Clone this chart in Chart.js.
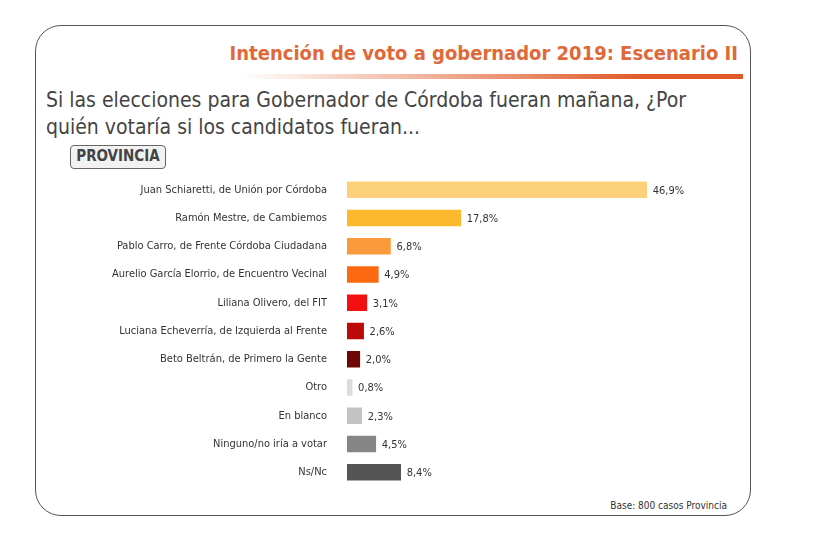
<!DOCTYPE html>
<html><head><meta charset="utf-8">
<script src="https://cdn.jsdelivr.net/npm/chart.js@4"></script>
<style>
body{margin:0;width:822px;height:549px;background:#fff;font-family:"DejaVu Sans Condensed","Roboto Condensed",Roboto,sans-serif;position:relative;overflow:hidden}
#frame{position:absolute;left:35px;top:25px;width:716px;height:491px;border:1.5px solid #555;border-radius:26px;box-sizing:border-box}
#title{position:absolute;right:84px;top:41px;color:#e0693a;font-weight:bold;font-size:20px;font-family:"DejaVu Sans Condensed",sans-serif}
#line{position:absolute;left:240px;top:74px;width:503px;height:5px;background:linear-gradient(to right,rgba(224,90,40,0),#e05a28 80%)}
#sub{position:absolute;left:46px;top:87px;color:#444;font-size:21px;line-height:27px;font-family:"DejaVu Sans Condensed",sans-serif}
#prov{position:absolute;left:70px;top:145px;width:96px;height:24px;border:1.5px solid #666;border-radius:4px;box-sizing:border-box;background:#f2f2f2;color:#444;font-size:15px;font-weight:bold;text-align:center;line-height:21px}
#base{position:absolute;right:95px;top:500px;font-size:10px;color:#333}
#c{position:absolute;left:40px;top:157px}
</style></head><body>
<div id="frame"></div>
<div id="title">Intención de voto a gobernador 2019: Escenario II</div>
<div id="line"></div>
<div id="sub">Si las elecciones para Gobernador de Córdoba fueran mañana, ¿Por<br>quién votaría si los candidatos fueran...</div>
<div id="prov">PROVINCIA</div>
<div id="base">Base: 800 casos Provincia</div>
<canvas id="c" width="700" height="348"></canvas>
<script>
const categories=["Juan Schiaretti, de Unión por Córdoba","Ramón Mestre, de Cambiemos","Pablo Carro, de Frente Córdoba Ciudadana","Aurelio García Elorrio, de Encuentro Vecinal","Liliana Olivero, del FIT","Luciana Echeverría, de Izquierda al Frente","Beto Beltrán, de Primero la Gente","Otro","En blanco","Ninguno/no iría a votar","Ns/Nc"];
const values=[46.9,17.8,6.8,4.9,3.1,2.6,2.0,0.8,2.3,4.5,8.4];
const colors=["#fdd17a","#fdb92d","#fb9a3c","#fb6a10","#f41010","#bc0a0a","#6e0606","#dcdcdc","#c3c3c3","#858585","#555555"];
const labelPlugin={id:'lbl',afterDatasetsDraw(ch){const ctx=ch.ctx;const m=ch.getDatasetMeta(0);ctx.save();ctx.font='11px "DejaVu Sans Condensed",sans-serif';ctx.fillStyle='#333';ctx.textBaseline='middle';m.data.forEach((b,i)=>{ctx.fillText(values[i].toFixed(1).replace('.',',')+'%',b.x+6,b.y+1);});ctx.restore();}};
new Chart(document.getElementById('c'),{type:'bar',data:{labels:categories,datasets:[{data:values,backgroundColor:colors,barThickness:16}]},
options:{indexAxis:'y',responsive:false,animation:false,layout:{padding:0},
plugins:{legend:{display:false},tooltip:{enabled:false}},
scales:{x:{display:false,min:0,max:61.5},y:{grid:{display:false},border:{display:false},afterFit(s){s.width=307;},ticks:{color:'#333',padding:12,font:{size:11,family:'"DejaVu Sans Condensed",sans-serif'}}}}},
plugins:[labelPlugin]});
</script></body></html>
